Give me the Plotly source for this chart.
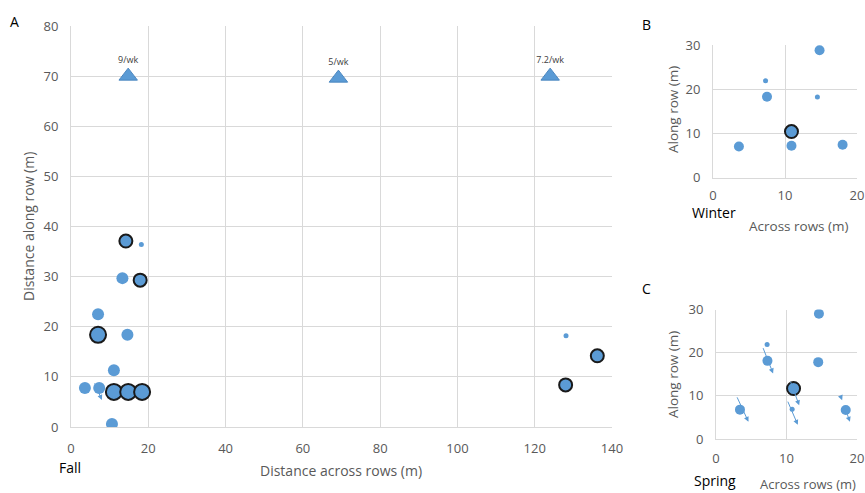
import plotly.graph_objects as go

# ---------------- data ----------------
# Panel A (Fall)
a_reg_x = [11.1, 3.6, 7.3, 10.6, 13.3, 7.0, 14.6]
a_reg_y = [11.3, 7.8, 7.8, 0.6, 29.7, 22.5, 18.4]
a_out_x = [11.1, 14.8, 18.4, 7.0, 17.9, 14.2, 136.2, 128.0]
a_out_y = [7.0, 7.0, 7.0, 18.4, 29.3, 37.1, 14.2, 8.4]
a_out_w = [3, 3, 3, 3, 2, 2, 2, 2]          # bubble weights
a_small_x = [18.2, 128.1]
a_small_y = [36.4, 18.2]
a_tri_x = [14.8, 69.2, 124.0]
a_tri_y = [70.0, 69.6, 70.0]
a_tri_lbl = ["9/wk", "5/wk", "7.2/wk"]
a_arr_tail_x = [5.95]
a_arr_tail_y = [9.0]
a_arr_tip_x = [8.0]
a_arr_tip_y = [5.4]

# Panel B (Winter)
b_reg_x = [14.8, 7.5, 3.6, 10.9, 18.0]
b_reg_y = [28.8, 18.3, 7.0, 7.2, 7.4]
b_small_x = [7.3, 14.5]
b_small_y = [21.9, 18.2]
b_out_x = [10.9]
b_out_y = [10.4]

# Panel C (Spring)
c_reg_x = [14.6, 7.3, 14.5, 3.4, 18.4]
c_reg_y = [29.0, 18.1, 17.8, 6.8, 6.7]
c_small_x = [7.25, 10.8]
c_small_y = [21.9, 6.9]
c_out_x = [11.0]
c_out_y = [11.7]
c_arr_tail_x = [6.6, 10.5, 10.1, 2.9, 18.2, 17.6]
c_arr_tail_y = [21.4, 13.6, 9.0, 10.0, 7.6, 10.2]
c_arr_tip_x = [8.1, 11.8, 11.6, 4.6, 19.0, 17.9]
c_arr_tip_y = [15.2, 7.8, 3.3, 4.0, 4.0, 9.0]

# ---------------- style ----------------
BLUE = "#5B9BD5"
EDGE = "#1a1a1a"
GRID = "#D9D9D9"
TICK = "#595959"
FONT = "Open Sans"
wsize = {2: 13, 3: 16}

fig = go.Figure()

def dots(x, y, size, xa, ya, outline=False):
    fig.add_trace(go.Scatter(
        x=x, y=y, mode="markers", xaxis=xa, yaxis=ya, hoverinfo="skip",
        marker=dict(color=BLUE, size=size, opacity=1,
                    line=dict(color=EDGE if outline else BLUE,
                              width=2 if outline else 0))))

# Panel A
dots(a_reg_x, a_reg_y, 12, "x", "y")
dots(a_small_x, a_small_y, 5, "x", "y")
dots(a_out_x, a_out_y, [wsize[w] for w in a_out_w], "x", "y", outline=True)
fig.add_trace(go.Scatter(
    x=a_tri_x, y=a_tri_y, mode="markers+text", text=a_tri_lbl,
    textposition="top center", textfont=dict(size=9, color="#404040", family=FONT),
    marker=dict(symbol="triangle-up", size=16, color=BLUE, opacity=1,
                line=dict(color="#4a86c0", width=1)),
    xaxis="x", yaxis="y", hoverinfo="skip"))

# Panel B
dots(b_reg_x, b_reg_y, 10, "x2", "y2")
dots(b_small_x, b_small_y, 5, "x2", "y2")
dots(b_out_x, b_out_y, 13, "x2", "y2", outline=True)

# Panel C
dots(c_reg_x, c_reg_y, 10, "x3", "y3")
dots(c_small_x, c_small_y, 5, "x3", "y3")
dots(c_out_x, c_out_y, 13, "x3", "y3", outline=True)

annotations = []
def arrows(tx, ty, hx, hy, xa, ya):
    for x0, y0, x1, y1 in zip(tx, ty, hx, hy):
        annotations.append(dict(
            x=x1, y=y1, ax=x0, ay=y0, xref=xa, yref=ya, axref=xa, ayref=ya,
            showarrow=True, arrowhead=2, arrowsize=1, arrowwidth=1,
            arrowcolor=BLUE, text=""))

arrows(a_arr_tail_x, a_arr_tail_y, a_arr_tip_x, a_arr_tip_y, "x", "y")
arrows(c_arr_tail_x, c_arr_tail_y, c_arr_tip_x, c_arr_tip_y, "x3", "y3")

def label(text, x, y, size=13, color=TICK, angle=0):
    annotations.append(dict(text=text, x=x / 865, y=1 - y / 493, xref="paper",
                            yref="paper", showarrow=False, textangle=angle,
                            xanchor="center", yanchor="middle",
                            font=dict(size=size, color=color, family=FONT)))

label("A", 15, 22, 14, "#000000")
label("B", 646, 24, 14, "#000000")
label("C", 646, 288, 14, "#000000")
label("Fall", 70, 467, 14, "#000000")
label("Winter", 714, 212, 14, "#000000")
label("Spring", 715, 480, 14, "#000000")
label("Distance across rows (m)", 341, 470, 14)
label("Distance along row (m)", 28, 227, 14, angle=-90)
label("Across rows (m)", 799, 226, 13.5)
label("Along row (m)", 673, 110, 13.5, angle=-90)
label("Across rows (m)", 808, 484, 13)
label("Along row (m)", 673, 375, 13.5, angle=-90)

def ax(rng, dtick, dom, anchor, standoff=9):
    return dict(range=rng, dtick=dtick, domain=dom, anchor=anchor,
                showgrid=True, gridcolor=GRID, gridwidth=1, zeroline=False,
                showline=True, linecolor=GRID, linewidth=1, mirror=False,
                ticks="", ticklabelstandoff=standoff, automargin=False,
                tickfont=dict(size=13, color=TICK, family=FONT), fixedrange=True)

fig.update_layout(
    width=865, height=493, margin=dict(l=0, r=0, t=0, b=0),
    paper_bgcolor="white", plot_bgcolor="white", showlegend=False,
    font=dict(family=FONT),
    xaxis=ax([0, 140], 20, [71 / 865, 612 / 865], "y"),
    yaxis=ax([0, 80], 10, [1 - 427 / 493, 1 - 26 / 493], "x"),
    xaxis2=ax([0, 20], 10, [713 / 865, 857 / 865], "y2", standoff=6),
    yaxis2=ax([0, 30], 10, [1 - 177.5 / 493, 1 - 45 / 493], "x2"),
    xaxis3=ax([0, 20], 10, [716 / 865, 857 / 865], "y3", standoff=7),
    yaxis3=ax([0, 30], 10, [1 - 439 / 493, 1 - 309.5 / 493], "x3"),
    annotations=annotations,
)

fig.write_html("out.html",
               config={"displayModeBar": False},
               post_script="document.body.style.margin='0';"
                           "document.body.style.overflow='hidden';")
